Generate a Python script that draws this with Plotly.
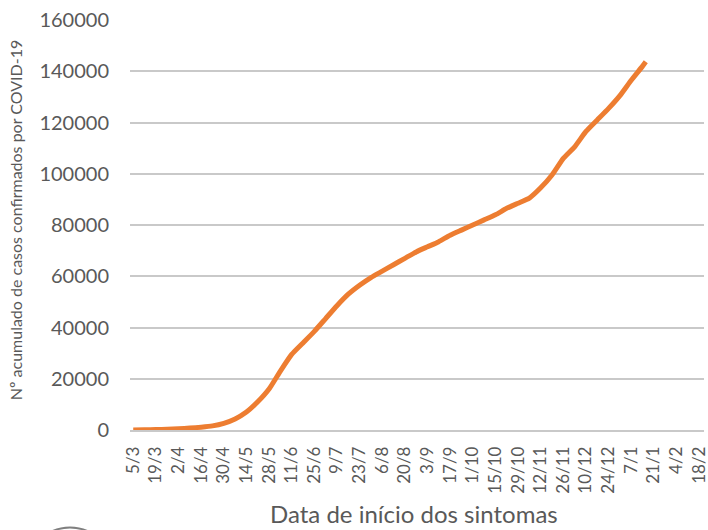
import plotly.graph_objects as go
from datetime import datetime, timedelta

# Data (cumulative confirmed cases by symptom onset date)
dates = [
    "2020-03-05", "2020-03-12", "2020-03-19", "2020-03-26", "2020-04-02",
    "2020-04-09", "2020-04-16", "2020-04-23", "2020-04-30", "2020-05-07",
    "2020-05-14", "2020-05-21", "2020-05-28", "2020-06-04", "2020-06-11",
    "2020-06-18", "2020-06-25", "2020-07-02", "2020-07-09", "2020-07-16",
    "2020-07-23", "2020-07-30", "2020-08-06", "2020-08-13", "2020-08-20",
    "2020-08-27", "2020-09-03", "2020-09-10", "2020-09-17", "2020-09-24",
    "2020-10-01", "2020-10-08", "2020-10-15", "2020-10-22", "2020-10-29",
    "2020-11-05", "2020-11-12", "2020-11-19", "2020-11-26", "2020-12-03",
    "2020-12-10", "2020-12-17", "2020-12-24", "2020-12-31", "2021-01-07",
    "2021-01-14", "2021-01-16",
]
cases = [
    0, 50, 150, 300, 500,
    750, 1100, 1600, 2600, 4300,
    7000, 11000, 16000, 23000, 29500,
    34000, 38500, 43500, 48500, 53000,
    56500, 59500, 62000, 64500, 67000,
    69500, 71500, 73500, 76000, 78000,
    80000, 82000, 84000, 86500, 88500,
    90500, 94500, 99500, 106000, 110500,
    116500, 121000, 125500, 130500, 136500,
    142000, 143700,
]

# Tick labels: every 14 days from 5/3
TICK_START = datetime(2020, 3, 5)
tick_dates = [TICK_START + timedelta(days=14 * i) for i in range(26)]
tick_text = [f"{d.day}/{d.month}" for d in tick_dates]

y_ticks = list(range(0, 160001, 20000))

TXT = "#595959"
FONT = "Lato"

fig = go.Figure()
fig.add_trace(go.Scatter(
    x=dates, y=cases,
    mode="lines",
    line=dict(color="#ED7D31", width=5, shape="spline", smoothing=0.5),
    showlegend=False,
))

fig.update_xaxes(
    type="date",
    range=["2020-03-03", "2021-02-21"],
    tickvals=tick_dates,
    ticktext=tick_text,
    tickangle=-90,
    tickfont=dict(family=FONT, size=17, color=TXT),
    ticklabeloverflow="allow",
    ticklabelstandoff=8,
    showgrid=False,
    showline=True,
    linecolor="#C9C9C9",
    linewidth=1.5,
    zeroline=False,
    ticks="",
    automargin=False,
)
fig.update_yaxes(
    range=[0, 160000],
    tickvals=y_ticks,
    ticktext=[str(v) for v in y_ticks],
    tickfont=dict(family=FONT, size=20, color=TXT),
    showgrid=True,
    gridcolor="#C9C9C9",
    gridwidth=1.5,
    zeroline=False,
    showline=False,
    ticks="",
    ticklabelstandoff=20,
    automargin=False,
)

# Axis titles as annotations for exact placement
fig.add_annotation(
    text="Nº acumulado de casos confirmados por COVID-19",
    xref="paper", yref="paper", x=(15 - 130) / 574, y=(429.6 - 220) / 409.6,
    textangle=-90, showarrow=False, xanchor="center", yanchor="middle",
    font=dict(family=FONT, size=16, color=TXT),
)
fig.add_annotation(
    text="Data de início dos sintomas",
    xref="paper", yref="paper", x=(414 - 130) / 574, y=(429.6 - 513) / 409.6,
    showarrow=False, xanchor="center", yanchor="middle",
    font=dict(family=FONT, size=24, color=TXT),
)

# Partial logo arc at the bottom-left edge
fig.add_shape(
    type="circle", xref="paper", yref="paper",
    x0=(27 - 130) / 574, x1=(113 - 130) / 574,
    y0=(429.6 - 613) / 409.6, y1=(429.6 - 527) / 409.6,
    line=dict(color="#7F7F7F", width=2),
)

fig.update_layout(
    width=708, height=530,
    margin=dict(l=130, r=4, t=20, b=100.4),
    plot_bgcolor="white",
    paper_bgcolor="white",
    font=dict(family=FONT, color=TXT),
)

fig.write_html(
    "out.html",
    config={"displayModeBar": False},
    post_script="document.body.style.margin='0px';",
)
